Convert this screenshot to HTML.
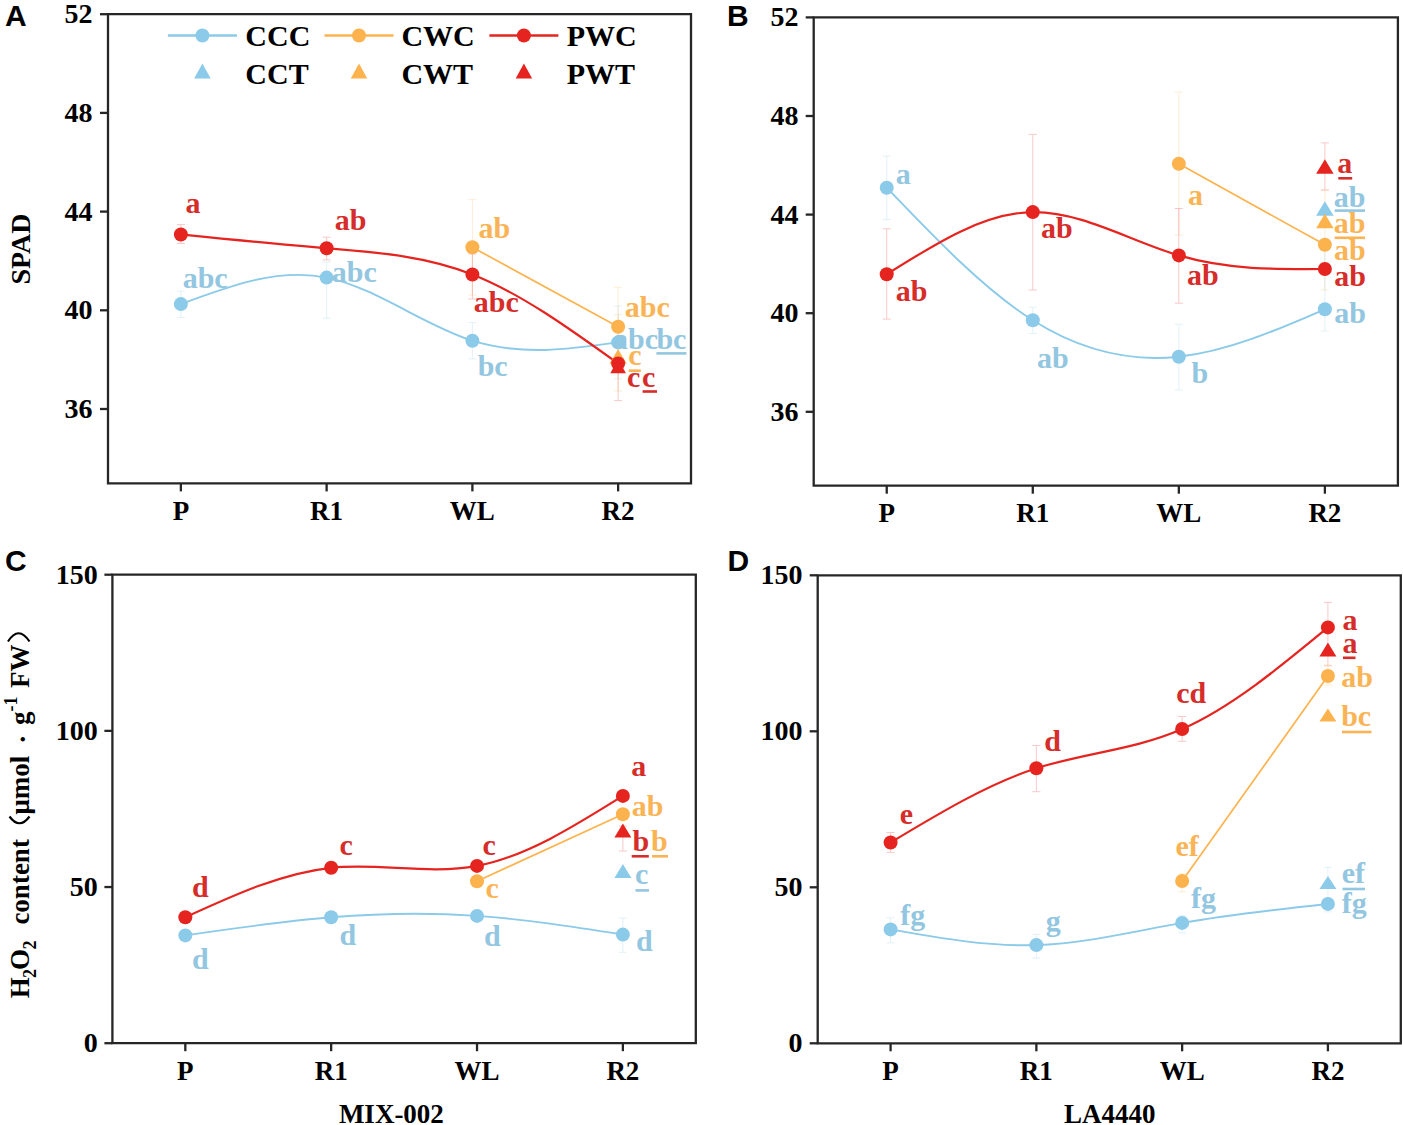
<!DOCTYPE html><html><head><meta charset="utf-8"><style>html,body{margin:0;padding:0;background:#fff;overflow:hidden}svg{display:block}</style></head><body>
<svg width="1403" height="1125" viewBox="0 0 1403 1125">
<rect width="1403" height="1125" fill="#fff"/>
<g stroke="#262626" stroke-width="2.3" fill="none" stroke-linecap="square">
<path d="M108.00,14.20 L691.00,14.20 L691.00,483.40 L108.00,483.40 Z" stroke-linejoin="miter"/>
<line x1="100.00" y1="14.20" x2="108.00" y2="14.20" stroke-linecap="butt"/>
<line x1="100.00" y1="112.90" x2="108.00" y2="112.90" stroke-linecap="butt"/>
<line x1="100.00" y1="211.60" x2="108.00" y2="211.60" stroke-linecap="butt"/>
<line x1="100.00" y1="310.30" x2="108.00" y2="310.30" stroke-linecap="butt"/>
<line x1="100.00" y1="409.00" x2="108.00" y2="409.00" stroke-linecap="butt"/>
<line x1="180.88" y1="483.40" x2="180.88" y2="491.40" stroke-linecap="butt"/>
<line x1="326.62" y1="483.40" x2="326.62" y2="491.40" stroke-linecap="butt"/>
<line x1="472.38" y1="483.40" x2="472.38" y2="491.40" stroke-linecap="butt"/>
<line x1="618.12" y1="483.40" x2="618.12" y2="491.40" stroke-linecap="butt"/>
</g>
<text x="92.50" y="23.20" font-family='"Liberation Serif", serif' font-weight="bold" font-size="28" fill="#000" text-anchor="end" >52</text>
<text x="92.50" y="121.90" font-family='"Liberation Serif", serif' font-weight="bold" font-size="28" fill="#000" text-anchor="end" >48</text>
<text x="92.50" y="220.60" font-family='"Liberation Serif", serif' font-weight="bold" font-size="28" fill="#000" text-anchor="end" >44</text>
<text x="92.50" y="319.30" font-family='"Liberation Serif", serif' font-weight="bold" font-size="28" fill="#000" text-anchor="end" >40</text>
<text x="92.50" y="418.00" font-family='"Liberation Serif", serif' font-weight="bold" font-size="28" fill="#000" text-anchor="end" >36</text>
<text x="180.88" y="520.00" font-family='"Liberation Serif", serif' font-weight="bold" font-size="27" fill="#000" text-anchor="middle" >P</text>
<text x="326.62" y="520.00" font-family='"Liberation Serif", serif' font-weight="bold" font-size="27" fill="#000" text-anchor="middle" >R1</text>
<text x="472.38" y="520.00" font-family='"Liberation Serif", serif' font-weight="bold" font-size="27" fill="#000" text-anchor="middle" >WL</text>
<text x="618.12" y="520.00" font-family='"Liberation Serif", serif' font-weight="bold" font-size="27" fill="#000" text-anchor="middle" >R2</text>
<text x="5.00" y="26.00" font-family='"Liberation Sans", sans-serif' font-weight="bold" font-size="30" fill="#000" text-anchor="start" >A</text>
<line x1="167.90" y1="35.5" x2="236.90" y2="35.5" stroke="#8bcae8" stroke-width="2.5"/>
<circle cx="202.40" cy="35.50" r="7.00" fill="#8bcae8"/>
<text x="245.30" y="45.60" font-family='"Liberation Serif", serif' font-weight="bold" font-size="30" fill="#000" text-anchor="start" >CCC</text>
<line x1="324.50" y1="35.5" x2="393.50" y2="35.5" stroke="#fcb34e" stroke-width="2.5"/>
<circle cx="359.00" cy="35.50" r="7.00" fill="#fcb34e"/>
<text x="401.40" y="45.60" font-family='"Liberation Serif", serif' font-weight="bold" font-size="30" fill="#000" text-anchor="start" >CWC</text>
<line x1="489.40" y1="35.5" x2="558.40" y2="35.5" stroke="#e5241f" stroke-width="2.5"/>
<circle cx="523.90" cy="35.50" r="7.00" fill="#e5241f"/>
<text x="566.80" y="45.60" font-family='"Liberation Serif", serif' font-weight="bold" font-size="30" fill="#000" text-anchor="start" >PWC</text>
<path d="M202.40,63.50 L210.65,78.50 L194.15,78.50 Z" fill="#8bcae8"/>
<text x="245.30" y="83.80" font-family='"Liberation Serif", serif' font-weight="bold" font-size="30" fill="#000" text-anchor="start" >CCT</text>
<path d="M359.00,63.50 L367.25,78.50 L350.75,78.50 Z" fill="#fcb34e"/>
<text x="401.40" y="83.80" font-family='"Liberation Serif", serif' font-weight="bold" font-size="30" fill="#000" text-anchor="start" >CWT</text>
<path d="M523.90,63.50 L532.15,78.50 L515.65,78.50 Z" fill="#e5241f"/>
<text x="566.80" y="83.80" font-family='"Liberation Serif", serif' font-weight="bold" font-size="30" fill="#000" text-anchor="start" >PWT</text>
<g stroke="#e5241f" stroke-width="1" opacity="0.24"><line x1="180.88" y1="224.60" x2="180.88" y2="243.50"/><line x1="176.88" y1="224.60" x2="184.88" y2="224.60"/><line x1="176.88" y1="243.50" x2="184.88" y2="243.50"/></g>
<g stroke="#8bcae8" stroke-width="1" opacity="0.24"><line x1="180.88" y1="291.20" x2="180.88" y2="317.60"/><line x1="176.88" y1="291.20" x2="184.88" y2="291.20"/><line x1="176.88" y1="317.60" x2="184.88" y2="317.60"/></g>
<g stroke="#e5241f" stroke-width="1" opacity="0.24"><line x1="326.62" y1="237.20" x2="326.62" y2="259.90"/><line x1="322.62" y1="237.20" x2="330.62" y2="237.20"/><line x1="322.62" y1="259.90" x2="330.62" y2="259.90"/></g>
<g stroke="#8bcae8" stroke-width="1" opacity="0.24"><line x1="326.62" y1="262.00" x2="326.62" y2="318.20"/><line x1="322.62" y1="262.00" x2="330.62" y2="262.00"/><line x1="322.62" y1="318.20" x2="330.62" y2="318.20"/></g>
<g stroke="#fcb34e" stroke-width="1" opacity="0.24"><line x1="472.38" y1="199.60" x2="472.38" y2="295.00"/><line x1="468.38" y1="199.60" x2="476.38" y2="199.60"/><line x1="468.38" y1="295.00" x2="476.38" y2="295.00"/></g>
<g stroke="#e5241f" stroke-width="1" opacity="0.24"><line x1="472.38" y1="254.00" x2="472.38" y2="299.00"/><line x1="468.38" y1="254.00" x2="476.38" y2="254.00"/><line x1="468.38" y1="299.00" x2="476.38" y2="299.00"/></g>
<g stroke="#8bcae8" stroke-width="1" opacity="0.24"><line x1="472.38" y1="322.60" x2="472.38" y2="358.90"/><line x1="468.38" y1="322.60" x2="476.38" y2="322.60"/><line x1="468.38" y1="358.90" x2="476.38" y2="358.90"/></g>
<g stroke="#fcb34e" stroke-width="1" opacity="0.24"><line x1="618.12" y1="287.30" x2="618.12" y2="366.00"/><line x1="614.12" y1="287.30" x2="622.12" y2="287.30"/><line x1="614.12" y1="366.00" x2="622.12" y2="366.00"/></g>
<g stroke="#8bcae8" stroke-width="1" opacity="0.24"><line x1="618.12" y1="306.00" x2="618.12" y2="378.80"/><line x1="614.12" y1="306.00" x2="622.12" y2="306.00"/><line x1="614.12" y1="378.80" x2="622.12" y2="378.80"/></g>
<g stroke="#fcb34e" stroke-width="1" opacity="0.24"><line x1="618.12" y1="314.70" x2="618.12" y2="391.00"/><line x1="614.12" y1="314.70" x2="622.12" y2="314.70"/><line x1="614.12" y1="391.00" x2="622.12" y2="391.00"/></g>
<g stroke="#e5241f" stroke-width="1" opacity="0.24"><line x1="618.12" y1="356.00" x2="618.12" y2="400.60"/><line x1="614.12" y1="356.00" x2="622.12" y2="356.00"/><line x1="614.12" y1="400.60" x2="622.12" y2="400.60"/></g>
<path stroke-width="1.9" d="M180.88,304.10 C229.46,285.94 278.04,267.78 326.62,277.60 C375.21,287.42 423.79,325.24 472.38,340.70 C520.96,356.16 569.54,349.28 618.12,342.40" stroke="#8bcae8" fill="none"/>
<path stroke-width="1.7" d="M472.38,247.30 L618.12,326.80" stroke="#fcb34e" fill="none"/>
<path stroke-width="2.2" d="M180.88,234.50 C229.46,239.39 278.04,244.29 326.62,248.30 C375.21,252.31 423.79,255.45 472.38,274.50 C520.96,293.55 569.54,328.53 618.12,363.50" stroke="#e5241f" fill="none"/>
<circle cx="180.88" cy="304.10" r="7.00" fill="#8bcae8"/>
<circle cx="326.62" cy="277.60" r="7.00" fill="#8bcae8"/>
<circle cx="472.38" cy="340.70" r="7.00" fill="#8bcae8"/>
<circle cx="618.12" cy="342.40" r="7.00" fill="#8bcae8"/>
<circle cx="472.38" cy="247.30" r="7.00" fill="#fcb34e"/>
<circle cx="618.12" cy="326.80" r="7.00" fill="#fcb34e"/>
<path d="M618.12,349.25 L626.88,363.75 L609.38,363.75 Z" fill="#fcb34e"/>
<circle cx="180.88" cy="234.50" r="7.00" fill="#e5241f"/>
<circle cx="326.62" cy="248.30" r="7.00" fill="#e5241f"/>
<circle cx="472.38" cy="274.50" r="7.00" fill="#e5241f"/>
<circle cx="618.12" cy="363.50" r="7.00" fill="#e5241f"/>
<path d="M618.12,358.75 L625.92,373.25 L610.33,373.25 Z" fill="#e5241f"/>
<text x="185.60" y="212.70" font-family='"Liberation Serif", serif' font-weight="bold" font-size="30" fill="#d62d2a" text-anchor="start" >a</text>
<text x="334.70" y="230.40" font-family='"Liberation Serif", serif' font-weight="bold" font-size="30" fill="#d62d2a" text-anchor="start" >ab</text>
<text x="182.70" y="287.80" font-family='"Liberation Serif", serif' font-weight="bold" font-size="30" fill="#93c6e0" text-anchor="start" >abc</text>
<text x="331.80" y="282.00" font-family='"Liberation Serif", serif' font-weight="bold" font-size="30" fill="#93c6e0" text-anchor="start" >abc</text>
<text x="478.50" y="237.50" font-family='"Liberation Serif", serif' font-weight="bold" font-size="30" fill="#fab455" text-anchor="start" >ab</text>
<text x="473.80" y="311.90" font-family='"Liberation Serif", serif' font-weight="bold" font-size="30" fill="#d62d2a" text-anchor="start" >abc</text>
<text x="477.70" y="375.60" font-family='"Liberation Serif", serif' font-weight="bold" font-size="30" fill="#93c6e0" text-anchor="start" >bc</text>
<text x="624.80" y="317.00" font-family='"Liberation Serif", serif' font-weight="bold" font-size="30" fill="#fab455" text-anchor="start" >abc</text>
<text x="613.00" y="348.70" font-family='"Liberation Serif", serif' font-weight="bold" font-size="30" fill="#93c6e0" text-anchor="start" >abc</text>
<text x="656.40" y="348.70" font-family='"Liberation Serif", serif' font-weight="bold" font-size="30" fill="#93c6e0" text-anchor="start" >bc</text>
<rect x="656.40" y="352.10" width="30.10" height="2.60" fill="#93c6e0"/>
<text x="628.30" y="365.00" font-family='"Liberation Serif", serif' font-weight="bold" font-size="30" fill="#fab455" text-anchor="start" >c</text>
<rect x="628.70" y="369.40" width="12.10" height="2.60" fill="#fab455"/>
<text x="627.10" y="386.90" font-family='"Liberation Serif", serif' font-weight="bold" font-size="30" fill="#d62d2a" text-anchor="start" >c</text>
<text x="642.00" y="386.90" font-family='"Liberation Serif", serif' font-weight="bold" font-size="30" fill="#d62d2a" text-anchor="start" >c</text>
<rect x="642.60" y="390.20" width="14.40" height="2.60" fill="#d62d2a"/>
<g stroke="#262626" stroke-width="2.3" fill="none" stroke-linecap="square">
<path d="M813.70,17.40 L1397.90,17.40 L1397.90,485.70 L813.70,485.70 Z" stroke-linejoin="miter"/>
<line x1="805.70" y1="17.40" x2="813.70" y2="17.40" stroke-linecap="butt"/>
<line x1="805.70" y1="116.00" x2="813.70" y2="116.00" stroke-linecap="butt"/>
<line x1="805.70" y1="214.60" x2="813.70" y2="214.60" stroke-linecap="butt"/>
<line x1="805.70" y1="313.20" x2="813.70" y2="313.20" stroke-linecap="butt"/>
<line x1="805.70" y1="411.80" x2="813.70" y2="411.80" stroke-linecap="butt"/>
<line x1="886.73" y1="485.70" x2="886.73" y2="493.70" stroke-linecap="butt"/>
<line x1="1032.78" y1="485.70" x2="1032.78" y2="493.70" stroke-linecap="butt"/>
<line x1="1178.83" y1="485.70" x2="1178.83" y2="493.70" stroke-linecap="butt"/>
<line x1="1324.88" y1="485.70" x2="1324.88" y2="493.70" stroke-linecap="butt"/>
</g>
<text x="798.40" y="26.40" font-family='"Liberation Serif", serif' font-weight="bold" font-size="28" fill="#000" text-anchor="end" >52</text>
<text x="798.40" y="125.00" font-family='"Liberation Serif", serif' font-weight="bold" font-size="28" fill="#000" text-anchor="end" >48</text>
<text x="798.40" y="223.60" font-family='"Liberation Serif", serif' font-weight="bold" font-size="28" fill="#000" text-anchor="end" >44</text>
<text x="798.40" y="322.20" font-family='"Liberation Serif", serif' font-weight="bold" font-size="28" fill="#000" text-anchor="end" >40</text>
<text x="798.40" y="420.80" font-family='"Liberation Serif", serif' font-weight="bold" font-size="28" fill="#000" text-anchor="end" >36</text>
<text x="886.73" y="522.20" font-family='"Liberation Serif", serif' font-weight="bold" font-size="27" fill="#000" text-anchor="middle" >P</text>
<text x="1032.78" y="522.20" font-family='"Liberation Serif", serif' font-weight="bold" font-size="27" fill="#000" text-anchor="middle" >R1</text>
<text x="1178.83" y="522.20" font-family='"Liberation Serif", serif' font-weight="bold" font-size="27" fill="#000" text-anchor="middle" >WL</text>
<text x="1324.88" y="522.20" font-family='"Liberation Serif", serif' font-weight="bold" font-size="27" fill="#000" text-anchor="middle" >R2</text>
<text x="726.90" y="26.40" font-family='"Liberation Sans", sans-serif' font-weight="bold" font-size="30" fill="#000" text-anchor="start" >B</text>
<g stroke="#8bcae8" stroke-width="1" opacity="0.24"><line x1="886.73" y1="156.10" x2="886.73" y2="219.60"/><line x1="882.73" y1="156.10" x2="890.73" y2="156.10"/><line x1="882.73" y1="219.60" x2="890.73" y2="219.60"/></g>
<g stroke="#e5241f" stroke-width="1" opacity="0.24"><line x1="886.73" y1="228.80" x2="886.73" y2="319.10"/><line x1="882.73" y1="228.80" x2="890.73" y2="228.80"/><line x1="882.73" y1="319.10" x2="890.73" y2="319.10"/></g>
<g stroke="#e5241f" stroke-width="1" opacity="0.24"><line x1="1032.78" y1="134.40" x2="1032.78" y2="290.00"/><line x1="1028.78" y1="134.40" x2="1036.78" y2="134.40"/><line x1="1028.78" y1="290.00" x2="1036.78" y2="290.00"/></g>
<g stroke="#8bcae8" stroke-width="1" opacity="0.24"><line x1="1032.78" y1="307.20" x2="1032.78" y2="333.50"/><line x1="1028.78" y1="307.20" x2="1036.78" y2="307.20"/><line x1="1028.78" y1="333.50" x2="1036.78" y2="333.50"/></g>
<g stroke="#fcb34e" stroke-width="1" opacity="0.24"><line x1="1178.83" y1="92.10" x2="1178.83" y2="235.00"/><line x1="1174.83" y1="92.10" x2="1182.83" y2="92.10"/><line x1="1174.83" y1="235.00" x2="1182.83" y2="235.00"/></g>
<g stroke="#e5241f" stroke-width="1" opacity="0.24"><line x1="1178.83" y1="208.50" x2="1178.83" y2="303.20"/><line x1="1174.83" y1="208.50" x2="1182.83" y2="208.50"/><line x1="1174.83" y1="303.20" x2="1182.83" y2="303.20"/></g>
<g stroke="#8bcae8" stroke-width="1" opacity="0.24"><line x1="1178.83" y1="324.30" x2="1178.83" y2="390.00"/><line x1="1174.83" y1="324.30" x2="1182.83" y2="324.30"/><line x1="1174.83" y1="390.00" x2="1182.83" y2="390.00"/></g>
<g stroke="#e5241f" stroke-width="1" opacity="0.24"><line x1="1324.88" y1="142.90" x2="1324.88" y2="190.00"/><line x1="1320.88" y1="142.90" x2="1328.88" y2="142.90"/><line x1="1320.88" y1="190.00" x2="1328.88" y2="190.00"/></g>
<g stroke="#fcb34e" stroke-width="1" opacity="0.24"><line x1="1324.88" y1="190.00" x2="1324.88" y2="290.00"/><line x1="1320.88" y1="190.00" x2="1328.88" y2="190.00"/><line x1="1320.88" y1="290.00" x2="1328.88" y2="290.00"/></g>
<g stroke="#8bcae8" stroke-width="1" opacity="0.24"><line x1="1324.88" y1="250.00" x2="1324.88" y2="331.00"/><line x1="1320.88" y1="250.00" x2="1328.88" y2="250.00"/><line x1="1320.88" y1="331.00" x2="1328.88" y2="331.00"/></g>
<path stroke-width="1.9" d="M886.73,187.70 C935.41,238.59 984.09,289.47 1032.78,320.30 C1081.46,351.13 1130.14,361.89 1178.83,356.70 C1227.51,351.51 1276.19,330.35 1324.88,309.20" stroke="#8bcae8" fill="none"/>
<path stroke-width="1.7" d="M1178.83,163.80 L1324.88,244.80" stroke="#fcb34e" fill="none"/>
<path stroke-width="2.2" d="M886.73,274.30 C935.41,243.53 984.09,212.76 1032.78,212.10 C1081.46,211.44 1130.14,240.90 1178.83,255.40 C1227.51,269.90 1276.19,269.45 1324.88,269.00" stroke="#e5241f" fill="none"/>
<circle cx="886.73" cy="187.70" r="7.00" fill="#8bcae8"/>
<circle cx="1032.78" cy="320.30" r="7.00" fill="#8bcae8"/>
<circle cx="1178.83" cy="356.70" r="7.00" fill="#8bcae8"/>
<circle cx="1324.88" cy="309.20" r="7.00" fill="#8bcae8"/>
<circle cx="1178.83" cy="163.80" r="7.00" fill="#fcb34e"/>
<circle cx="1324.88" cy="244.80" r="7.00" fill="#fcb34e"/>
<circle cx="886.73" cy="274.30" r="7.00" fill="#e5241f"/>
<circle cx="1032.78" cy="212.10" r="7.00" fill="#e5241f"/>
<circle cx="1178.83" cy="255.40" r="7.00" fill="#e5241f"/>
<circle cx="1324.88" cy="269.00" r="7.00" fill="#e5241f"/>
<path d="M1324.88,159.25 L1333.62,173.75 L1316.12,173.75 Z" fill="#e5241f"/>
<path d="M1324.88,201.25 L1333.62,215.75 L1316.12,215.75 Z" fill="#8bcae8"/>
<path d="M1324.88,213.75 L1333.62,228.25 L1316.12,228.25 Z" fill="#fcb34e"/>
<text x="895.70" y="183.50" font-family='"Liberation Serif", serif' font-weight="bold" font-size="30" fill="#93c6e0" text-anchor="start" >a</text>
<text x="895.70" y="301.20" font-family='"Liberation Serif", serif' font-weight="bold" font-size="30" fill="#d62d2a" text-anchor="start" >ab</text>
<text x="1041.00" y="238.20" font-family='"Liberation Serif", serif' font-weight="bold" font-size="30" fill="#d62d2a" text-anchor="start" >ab</text>
<text x="1036.90" y="367.60" font-family='"Liberation Serif", serif' font-weight="bold" font-size="30" fill="#93c6e0" text-anchor="start" >ab</text>
<text x="1188.00" y="204.60" font-family='"Liberation Serif", serif' font-weight="bold" font-size="30" fill="#fab455" text-anchor="start" >a</text>
<text x="1187.00" y="285.00" font-family='"Liberation Serif", serif' font-weight="bold" font-size="30" fill="#d62d2a" text-anchor="start" >ab</text>
<text x="1191.60" y="383.30" font-family='"Liberation Serif", serif' font-weight="bold" font-size="30" fill="#93c6e0" text-anchor="start" >b</text>
<text x="1337.30" y="173.10" font-family='"Liberation Serif", serif' font-weight="bold" font-size="30" fill="#d62d2a" text-anchor="start" >a</text>
<rect x="1338.30" y="177.00" width="13.90" height="2.60" fill="#d62d2a"/>
<text x="1333.70" y="207.00" font-family='"Liberation Serif", serif' font-weight="bold" font-size="30" fill="#93c6e0" text-anchor="start" >ab</text>
<rect x="1334.70" y="209.30" width="30.30" height="2.60" fill="#93c6e0"/>
<text x="1333.70" y="232.70" font-family='"Liberation Serif", serif' font-weight="bold" font-size="30" fill="#fab455" text-anchor="start" >ab</text>
<rect x="1334.70" y="236.50" width="30.30" height="2.60" fill="#fab455"/>
<text x="1334.00" y="260.00" font-family='"Liberation Serif", serif' font-weight="bold" font-size="30" fill="#fab455" text-anchor="start" >ab</text>
<text x="1334.30" y="285.60" font-family='"Liberation Serif", serif' font-weight="bold" font-size="30" fill="#d62d2a" text-anchor="start" >ab</text>
<text x="1334.30" y="323.40" font-family='"Liberation Serif", serif' font-weight="bold" font-size="30" fill="#93c6e0" text-anchor="start" >ab</text>
<g stroke="#262626" stroke-width="2.3" fill="none" stroke-linecap="square">
<path d="M112.40,574.70 L695.80,574.70 L695.80,1043.20 L112.40,1043.20 Z" stroke-linejoin="miter"/>
<line x1="104.40" y1="574.70" x2="112.40" y2="574.70" stroke-linecap="butt"/>
<line x1="104.40" y1="730.87" x2="112.40" y2="730.87" stroke-linecap="butt"/>
<line x1="104.40" y1="887.03" x2="112.40" y2="887.03" stroke-linecap="butt"/>
<line x1="104.40" y1="1043.20" x2="112.40" y2="1043.20" stroke-linecap="butt"/>
<line x1="185.32" y1="1043.20" x2="185.32" y2="1051.20" stroke-linecap="butt"/>
<line x1="331.17" y1="1043.20" x2="331.17" y2="1051.20" stroke-linecap="butt"/>
<line x1="477.02" y1="1043.20" x2="477.02" y2="1051.20" stroke-linecap="butt"/>
<line x1="622.88" y1="1043.20" x2="622.88" y2="1051.20" stroke-linecap="butt"/>
</g>
<text x="97.80" y="583.70" font-family='"Liberation Serif", serif' font-weight="bold" font-size="28" fill="#000" text-anchor="end" >150</text>
<text x="97.80" y="739.87" font-family='"Liberation Serif", serif' font-weight="bold" font-size="28" fill="#000" text-anchor="end" >100</text>
<text x="97.80" y="896.03" font-family='"Liberation Serif", serif' font-weight="bold" font-size="28" fill="#000" text-anchor="end" >50</text>
<text x="97.80" y="1052.20" font-family='"Liberation Serif", serif' font-weight="bold" font-size="28" fill="#000" text-anchor="end" >0</text>
<text x="185.32" y="1079.60" font-family='"Liberation Serif", serif' font-weight="bold" font-size="27" fill="#000" text-anchor="middle" >P</text>
<text x="331.17" y="1079.60" font-family='"Liberation Serif", serif' font-weight="bold" font-size="27" fill="#000" text-anchor="middle" >R1</text>
<text x="477.02" y="1079.60" font-family='"Liberation Serif", serif' font-weight="bold" font-size="27" fill="#000" text-anchor="middle" >WL</text>
<text x="622.88" y="1079.60" font-family='"Liberation Serif", serif' font-weight="bold" font-size="27" fill="#000" text-anchor="middle" >R2</text>
<text x="5.00" y="571.00" font-family='"Liberation Sans", sans-serif' font-weight="bold" font-size="30" fill="#000" text-anchor="start" >C</text>
<g stroke="#e5241f" stroke-width="1" opacity="0.24"><line x1="622.88" y1="826.00" x2="622.88" y2="851.00"/><line x1="618.88" y1="826.00" x2="626.88" y2="826.00"/><line x1="618.88" y1="851.00" x2="626.88" y2="851.00"/></g>
<g stroke="#8bcae8" stroke-width="1" opacity="0.24"><line x1="622.88" y1="918.10" x2="622.88" y2="952.30"/><line x1="618.88" y1="918.10" x2="626.88" y2="918.10"/><line x1="618.88" y1="952.30" x2="626.88" y2="952.30"/></g>
<path stroke-width="1.9" d="M185.32,935.40 C233.94,928.33 282.56,921.26 331.17,917.30 C379.79,913.34 428.41,912.50 477.02,915.90 C525.64,919.30 574.26,926.95 622.88,934.60" stroke="#8bcae8" fill="none"/>
<path stroke-width="1.7" d="M477.02,881.20 L622.88,814.20" stroke="#fcb34e" fill="none"/>
<path stroke-width="2.2" d="M185.32,917.30 C233.94,895.06 282.56,872.81 331.17,867.80 C379.79,862.79 428.41,875.01 477.02,865.90 C525.64,856.79 574.26,826.34 622.88,795.90" stroke="#e5241f" fill="none"/>
<circle cx="185.32" cy="935.40" r="7.00" fill="#8bcae8"/>
<circle cx="331.17" cy="917.30" r="7.00" fill="#8bcae8"/>
<circle cx="477.02" cy="915.90" r="7.00" fill="#8bcae8"/>
<circle cx="622.88" cy="934.60" r="7.00" fill="#8bcae8"/>
<circle cx="477.02" cy="881.20" r="7.00" fill="#fcb34e"/>
<circle cx="622.88" cy="814.20" r="7.00" fill="#fcb34e"/>
<circle cx="185.32" cy="917.30" r="7.00" fill="#e5241f"/>
<circle cx="331.17" cy="867.80" r="7.00" fill="#e5241f"/>
<circle cx="477.02" cy="865.90" r="7.00" fill="#e5241f"/>
<circle cx="622.88" cy="795.90" r="7.00" fill="#e5241f"/>
<path d="M622.88,823.50 L631.38,837.50 L614.38,837.50 Z" fill="#e5241f"/>
<path d="M622.88,864.00 L631.38,878.00 L614.38,878.00 Z" fill="#8bcae8"/>
<text x="192.10" y="897.30" font-family='"Liberation Serif", serif' font-weight="bold" font-size="30" fill="#d62d2a" text-anchor="start" >d</text>
<text x="192.10" y="968.70" font-family='"Liberation Serif", serif' font-weight="bold" font-size="30" fill="#93c6e0" text-anchor="start" >d</text>
<text x="339.40" y="854.80" font-family='"Liberation Serif", serif' font-weight="bold" font-size="30" fill="#d62d2a" text-anchor="start" >c</text>
<text x="339.40" y="945.10" font-family='"Liberation Serif", serif' font-weight="bold" font-size="30" fill="#93c6e0" text-anchor="start" >d</text>
<text x="482.60" y="854.80" font-family='"Liberation Serif", serif' font-weight="bold" font-size="30" fill="#d62d2a" text-anchor="start" >c</text>
<text x="485.40" y="897.80" font-family='"Liberation Serif", serif' font-weight="bold" font-size="30" fill="#fab455" text-anchor="start" >c</text>
<text x="484.00" y="945.70" font-family='"Liberation Serif", serif' font-weight="bold" font-size="30" fill="#93c6e0" text-anchor="start" >d</text>
<text x="631.20" y="776.30" font-family='"Liberation Serif", serif' font-weight="bold" font-size="30" fill="#d62d2a" text-anchor="start" >a</text>
<text x="631.80" y="815.70" font-family='"Liberation Serif", serif' font-weight="bold" font-size="30" fill="#fab455" text-anchor="start" >ab</text>
<text x="632.40" y="850.90" font-family='"Liberation Serif", serif' font-weight="bold" font-size="30" fill="#d62d2a" text-anchor="start" >b</text>
<rect x="631.70" y="855.00" width="17.10" height="2.60" fill="#d62d2a"/>
<text x="651.00" y="850.90" font-family='"Liberation Serif", serif' font-weight="bold" font-size="30" fill="#fab455" text-anchor="start" >b</text>
<rect x="652.00" y="855.00" width="16.00" height="2.60" fill="#fab455"/>
<text x="635.00" y="884.00" font-family='"Liberation Serif", serif' font-weight="bold" font-size="30" fill="#93c6e0" text-anchor="start" >c</text>
<rect x="635.50" y="889.10" width="13.50" height="2.60" fill="#93c6e0"/>
<text x="636.00" y="951.20" font-family='"Liberation Serif", serif' font-weight="bold" font-size="30" fill="#93c6e0" text-anchor="start" >d</text>
<g stroke="#262626" stroke-width="2.3" fill="none" stroke-linecap="square">
<path d="M817.70,575.30 L1400.80,575.30 L1400.80,1043.30 L817.70,1043.30 Z" stroke-linejoin="miter"/>
<line x1="809.70" y1="575.30" x2="817.70" y2="575.30" stroke-linecap="butt"/>
<line x1="809.70" y1="731.30" x2="817.70" y2="731.30" stroke-linecap="butt"/>
<line x1="809.70" y1="887.30" x2="817.70" y2="887.30" stroke-linecap="butt"/>
<line x1="809.70" y1="1043.30" x2="817.70" y2="1043.30" stroke-linecap="butt"/>
<line x1="890.59" y1="1043.30" x2="890.59" y2="1051.30" stroke-linecap="butt"/>
<line x1="1036.36" y1="1043.30" x2="1036.36" y2="1051.30" stroke-linecap="butt"/>
<line x1="1182.14" y1="1043.30" x2="1182.14" y2="1051.30" stroke-linecap="butt"/>
<line x1="1327.91" y1="1043.30" x2="1327.91" y2="1051.30" stroke-linecap="butt"/>
</g>
<text x="802.50" y="584.30" font-family='"Liberation Serif", serif' font-weight="bold" font-size="28" fill="#000" text-anchor="end" >150</text>
<text x="802.50" y="740.30" font-family='"Liberation Serif", serif' font-weight="bold" font-size="28" fill="#000" text-anchor="end" >100</text>
<text x="802.50" y="896.30" font-family='"Liberation Serif", serif' font-weight="bold" font-size="28" fill="#000" text-anchor="end" >50</text>
<text x="802.50" y="1052.30" font-family='"Liberation Serif", serif' font-weight="bold" font-size="28" fill="#000" text-anchor="end" >0</text>
<text x="890.59" y="1079.60" font-family='"Liberation Serif", serif' font-weight="bold" font-size="27" fill="#000" text-anchor="middle" >P</text>
<text x="1036.36" y="1079.60" font-family='"Liberation Serif", serif' font-weight="bold" font-size="27" fill="#000" text-anchor="middle" >R1</text>
<text x="1182.14" y="1079.60" font-family='"Liberation Serif", serif' font-weight="bold" font-size="27" fill="#000" text-anchor="middle" >WL</text>
<text x="1327.91" y="1079.60" font-family='"Liberation Serif", serif' font-weight="bold" font-size="27" fill="#000" text-anchor="middle" >R2</text>
<text x="727.50" y="571.00" font-family='"Liberation Sans", sans-serif' font-weight="bold" font-size="30" fill="#000" text-anchor="start" >D</text>
<g stroke="#e5241f" stroke-width="1" opacity="0.24"><line x1="890.59" y1="832.50" x2="890.59" y2="852.40"/><line x1="886.59" y1="832.50" x2="894.59" y2="832.50"/><line x1="886.59" y1="852.40" x2="894.59" y2="852.40"/></g>
<g stroke="#e5241f" stroke-width="1" opacity="0.24"><line x1="1036.36" y1="745.50" x2="1036.36" y2="791.70"/><line x1="1032.36" y1="745.50" x2="1040.36" y2="745.50"/><line x1="1032.36" y1="791.70" x2="1040.36" y2="791.70"/></g>
<g stroke="#e5241f" stroke-width="1" opacity="0.24"><line x1="1182.14" y1="716.50" x2="1182.14" y2="741.30"/><line x1="1178.14" y1="716.50" x2="1186.14" y2="716.50"/><line x1="1178.14" y1="741.30" x2="1186.14" y2="741.30"/></g>
<g stroke="#e5241f" stroke-width="1" opacity="0.24"><line x1="1327.91" y1="602.40" x2="1327.91" y2="665.80"/><line x1="1323.91" y1="602.40" x2="1331.91" y2="602.40"/><line x1="1323.91" y1="665.80" x2="1331.91" y2="665.80"/></g>
<g stroke="#8bcae8" stroke-width="1" opacity="0.24"><line x1="890.59" y1="917.80" x2="890.59" y2="942.90"/><line x1="886.59" y1="917.80" x2="894.59" y2="917.80"/><line x1="886.59" y1="942.90" x2="894.59" y2="942.90"/></g>
<g stroke="#8bcae8" stroke-width="1" opacity="0.24"><line x1="1036.36" y1="934.40" x2="1036.36" y2="958.00"/><line x1="1032.36" y1="934.40" x2="1040.36" y2="934.40"/><line x1="1032.36" y1="958.00" x2="1040.36" y2="958.00"/></g>
<g stroke="#8bcae8" stroke-width="1" opacity="0.24"><line x1="1182.14" y1="915.80" x2="1182.14" y2="932.90"/><line x1="1178.14" y1="915.80" x2="1186.14" y2="915.80"/><line x1="1178.14" y1="932.90" x2="1186.14" y2="932.90"/></g>
<g stroke="#8bcae8" stroke-width="1" opacity="0.24"><line x1="1327.91" y1="867.50" x2="1327.91" y2="911.80"/><line x1="1323.91" y1="867.50" x2="1331.91" y2="867.50"/><line x1="1323.91" y1="911.80" x2="1331.91" y2="911.80"/></g>
<g stroke="#fcb34e" stroke-width="1" opacity="0.24"><line x1="1182.14" y1="874.00" x2="1182.14" y2="891.70"/><line x1="1178.14" y1="874.00" x2="1186.14" y2="874.00"/><line x1="1178.14" y1="891.70" x2="1186.14" y2="891.70"/></g>
<g stroke="#fcb34e" stroke-width="1" opacity="0.24"><line x1="1327.91" y1="665.00" x2="1327.91" y2="685.00"/><line x1="1323.91" y1="665.00" x2="1331.91" y2="665.00"/><line x1="1323.91" y1="685.00" x2="1331.91" y2="685.00"/></g>
<path stroke-width="1.9" d="M890.59,929.40 C939.18,938.07 987.77,946.75 1036.36,945.10 C1084.95,943.45 1133.55,931.49 1182.14,922.90 C1230.73,914.31 1279.32,909.11 1327.91,903.90" stroke="#8bcae8" fill="none"/>
<path stroke-width="1.7" d="M1182.14,881.00 L1327.91,676.00" stroke="#fcb34e" fill="none"/>
<path stroke-width="2.2" d="M890.59,842.50 C939.18,813.28 987.77,784.06 1036.36,768.30 C1084.95,752.54 1133.55,750.24 1182.14,729.00 C1230.73,707.76 1279.32,667.58 1327.91,627.40" stroke="#e5241f" fill="none"/>
<circle cx="890.59" cy="929.40" r="7.00" fill="#8bcae8"/>
<circle cx="1036.36" cy="945.10" r="7.00" fill="#8bcae8"/>
<circle cx="1182.14" cy="922.90" r="7.00" fill="#8bcae8"/>
<circle cx="1327.91" cy="903.90" r="7.00" fill="#8bcae8"/>
<circle cx="1182.14" cy="881.00" r="7.00" fill="#fcb34e"/>
<circle cx="1327.91" cy="676.00" r="7.00" fill="#fcb34e"/>
<circle cx="890.59" cy="842.50" r="7.00" fill="#e5241f"/>
<circle cx="1036.36" cy="768.30" r="7.00" fill="#e5241f"/>
<circle cx="1182.14" cy="729.00" r="7.00" fill="#e5241f"/>
<circle cx="1327.91" cy="627.40" r="7.00" fill="#e5241f"/>
<path d="M1327.91,642.50 L1336.41,656.50 L1319.41,656.50 Z" fill="#e5241f"/>
<path d="M1327.91,708.50 L1336.41,721.50 L1319.41,721.50 Z" fill="#fcb34e"/>
<path d="M1327.91,876.00 L1336.41,889.00 L1319.41,889.00 Z" fill="#8bcae8"/>
<text x="899.70" y="823.90" font-family='"Liberation Serif", serif' font-weight="bold" font-size="30" fill="#d62d2a" text-anchor="start" >e</text>
<text x="1044.30" y="750.70" font-family='"Liberation Serif", serif' font-weight="bold" font-size="30" fill="#d62d2a" text-anchor="start" >d</text>
<text x="1176.30" y="703.30" font-family='"Liberation Serif", serif' font-weight="bold" font-size="30" fill="#d62d2a" text-anchor="start" >cd</text>
<text x="1175.40" y="856.20" font-family='"Liberation Serif", serif' font-weight="bold" font-size="30" fill="#fab455" text-anchor="start" >ef</text>
<text x="900.30" y="924.50" font-family='"Liberation Serif", serif' font-weight="bold" font-size="30" fill="#93c6e0" text-anchor="start" >fg</text>
<text x="1045.70" y="931.00" font-family='"Liberation Serif", serif' font-weight="bold" font-size="30" fill="#93c6e0" text-anchor="start" >g</text>
<text x="1191.10" y="908.00" font-family='"Liberation Serif", serif' font-weight="bold" font-size="30" fill="#93c6e0" text-anchor="start" >fg</text>
<text x="1342.50" y="629.60" font-family='"Liberation Serif", serif' font-weight="bold" font-size="30" fill="#d62d2a" text-anchor="start" >a</text>
<text x="1342.50" y="653.00" font-family='"Liberation Serif", serif' font-weight="bold" font-size="30" fill="#d62d2a" text-anchor="start" >a</text>
<rect x="1343.00" y="656.50" width="12.50" height="2.60" fill="#d62d2a"/>
<text x="1341.20" y="687.20" font-family='"Liberation Serif", serif' font-weight="bold" font-size="30" fill="#fab455" text-anchor="start" >ab</text>
<text x="1341.20" y="725.60" font-family='"Liberation Serif", serif' font-weight="bold" font-size="30" fill="#fab455" text-anchor="start" >bc</text>
<rect x="1342.00" y="730.70" width="29.50" height="2.60" fill="#fab455"/>
<text x="1341.80" y="882.50" font-family='"Liberation Serif", serif' font-weight="bold" font-size="30" fill="#93c6e0" text-anchor="start" >ef</text>
<rect x="1342.50" y="887.70" width="22.50" height="2.60" fill="#93c6e0"/>
<text x="1341.80" y="913.00" font-family='"Liberation Serif", serif' font-weight="bold" font-size="30" fill="#93c6e0" text-anchor="start" >fg</text>
<text transform="translate(30.4,249.1) rotate(-90)" font-family='"Liberation Serif", serif' font-weight="bold" font-size="28" text-anchor="middle" fill="#000">SPAD</text>
<text x="338.90" y="1122.80" font-family='"Liberation Serif", serif' font-weight="bold" font-size="27" fill="#000" text-anchor="start" >MIX-002</text>
<text x="1064.10" y="1122.70" font-family='"Liberation Serif", serif' font-weight="bold" font-size="27" fill="#000" text-anchor="start" >LA4440</text>
<g transform="translate(28.5,1000) rotate(-90)">
<text x="1.80" y="0.00" font-family='"Liberation Serif", serif' font-weight="bold" font-size="27" fill="#000">H</text>
<text x="22.00" y="7.90" font-family='"Liberation Serif", serif' font-weight="bold" font-size="18" fill="#000">2</text>
<text x="30.10" y="0.00" font-family='"Liberation Serif", serif' font-weight="bold" font-size="27" fill="#000">O</text>
<text x="50.50" y="7.90" font-family='"Liberation Serif", serif' font-weight="bold" font-size="18" fill="#000">2</text>
<text x="75.40" y="0.00" font-family='"Liberation Serif", serif' font-weight="bold" font-size="27" fill="#000">content</text>
<text x="185.40" y="0.00" font-family='"Liberation Serif", serif' font-weight="bold" font-size="27" fill="#000">&#956;mol</text>
<text x="256.20" y="3.50" font-family='"Liberation Serif", serif' font-weight="bold" font-size="27" fill="#000">&#183;</text>
<text x="275.00" y="0.00" font-family='"Liberation Serif", serif' font-weight="bold" font-size="27" fill="#000">g</text>
<text x="288.50" y="-11.60" font-family='"Liberation Serif", serif' font-weight="bold" font-size="18" fill="#000">-1</text>
<text x="312.00" y="0.00" font-family='"Liberation Serif", serif' font-weight="bold" font-size="27" fill="#000">FW</text>
</g>
<path d="M9.5,816.5 Q19.5,830 29.5,816.5" stroke="#000" stroke-width="2.2" fill="none"/>
<path d="M8,641.5 Q18.5,625 29.5,641.5" stroke="#000" stroke-width="2.2" fill="none"/>
</svg></body></html>
